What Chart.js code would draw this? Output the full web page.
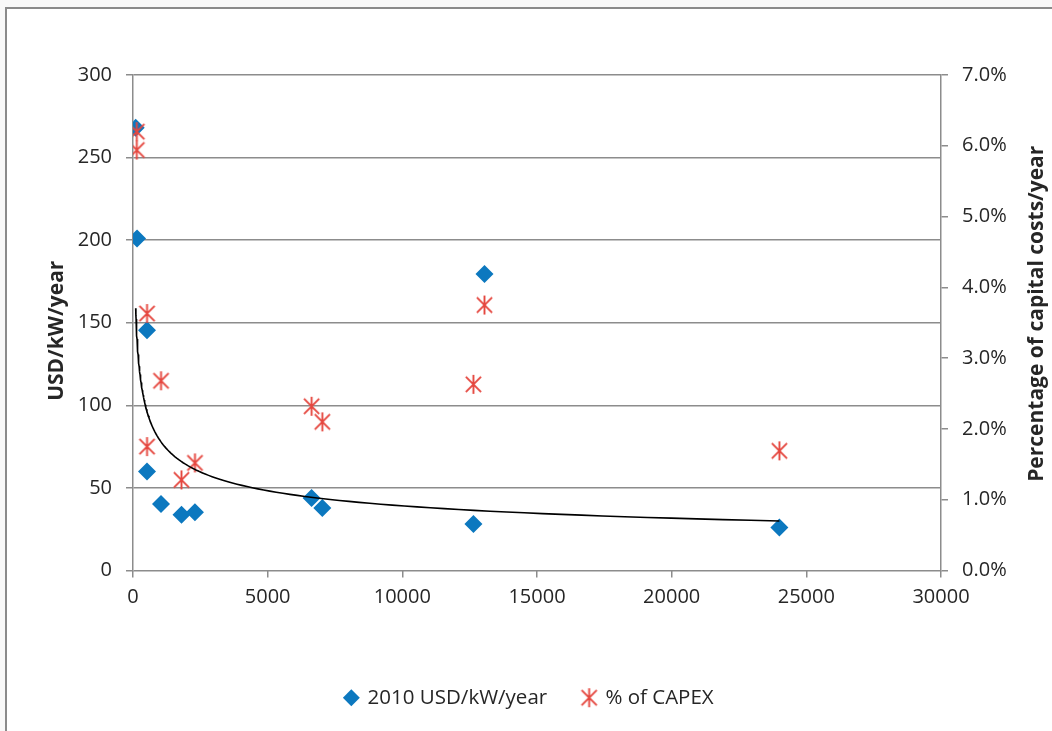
<!DOCTYPE html>
<html>
<head>
<meta charset="utf-8">
<script src="https://cdn.jsdelivr.net/npm/chart.js@4"></script>
<style>
  html, body { margin: 0; padding: 0; background: #f8f8f8; }
  #frame {
    position: absolute; left: 5px; top: 7px; width: 1047px; height: 724px;
    background: #fff; border-left: 2px solid #8a8a8a; border-top: 2px solid #8a8a8a;
  }
  #wrap { position: absolute; left: 0; top: 0; width: 1045px; height: 722px; }
</style>
</head>
<body>
<div id="frame"><div id="wrap"><canvas id="chart"></canvas></div></div>
<script>
// plant size (kW) and annual O&M cost (2010 USD/kW/year)
const usdX = [100, 150, 520, 520, 1040, 1800, 2300, 6630, 7030, 12640, 13050, 24000]
const usdY = [268, 201, 145.5, 60, 40.3, 33.8, 35.2, 43.9, 37.8, 28.1, 179.5, 26.1]
// same plants, O&M as % of capital costs per year
const capexX = [140, 140, 520, 520, 1040, 1800, 2300, 6630, 7030, 12640, 13050, 24000]
const capexY = [6.2, 5.94, 3.63, 1.75, 2.68, 1.28, 1.52, 2.32, 2.1, 2.63, 3.75, 1.69]

const xTicks = [0, 5000, 10000, 15000, 20000, 25000, 30000]
const leftTitle = 'USD/kW/year'
const rightTitle = 'Percentage of capital costs/year'
const seriesNames = ['2010 USD/kW/year', '% of CAPEX']

const BLUE = '#0c78bf'
const RED = '#e5473f'
const GRID = '#8c8c8c'
const TXT = '#262626'
const FONT = '"Open Sans", "Liberation Sans", sans-serif'

// power trendline y = a*x^b fitted on the USD series (like excel)
let n = usdX.length, sx = 0, sy = 0, sxx = 0, sxy = 0
for (let i = 0; i < n; i++) {
    let lx = Math.log(usdX[i]), ly = Math.log(usdY[i])
    sx += lx; sy += ly; sxx += lx * lx; sxy += lx * ly
}
const b = (n * sxy - sx * sy) / (n * sxx - sx * sx)
const a = Math.exp((sy - b * sx) / n)
const xMin = Math.min(...usdX), xMax = Math.max(...usdX)
const trend = []
for (let i = 0; i <= 120; i++) {
    let x = xMin * Math.pow(xMax / xMin, i / 120)
    trend.push({x: x, y: a * Math.pow(x, b)})
}

// excel style star marker (X with a vertical bar)
function starMarker(size, color) {
    const c = document.createElement('canvas')
    c.width = size; c.height = size
    const g = c.getContext('2d')
    const m = size / 2, r = size / 2 - 1, d = r * 0.8
    g.strokeStyle = color
    g.lineWidth = 1.9
    g.beginPath()
    g.moveTo(m, m - r); g.lineTo(m, m + r)
    g.moveTo(m - d, m - d); g.lineTo(m + d, m + d)
    g.moveTo(m + d, m - d); g.lineTo(m - d, m + d)
    g.stroke()
    return c
}
const star = starMarker(21, RED)

const axisTitles = {
    id: 'axisTitles',
    afterDraw(chart) {
        const ctx = chart.ctx, area = chart.chartArea
        const cy = (area.top + area.bottom) / 2
        ctx.save()
        ctx.font = 'bold 21px ' + FONT
        ctx.fillStyle = TXT
        ctx.textAlign = 'center'
        ctx.textBaseline = 'middle'
        ;[[50, cy + 8, leftTitle], [1030, cy - 9, rightTitle]].forEach(t => {
            ctx.save()
            ctx.translate(t[0], t[1])
            ctx.rotate(-Math.PI / 2)
            ctx.fillText(t[2], 0, 0)
            ctx.restore()
        })
        ctx.restore()
    }
}

const tickFont = {family: FONT, size: 20}

new Chart(document.getElementById('chart'), {
    type: 'scatter',
    data: {
        datasets: [
            {
                label: seriesNames[0],
                data: usdX.map((x, i) => ({x: x, y: usdY[i]})),
                yAxisID: 'y',
                pointStyle: 'rectRot',
                pointRadius: 9,
                pointHoverRadius: 9,
                backgroundColor: BLUE,
                borderColor: BLUE,
                borderWidth: 0,
                order: 3
            },
            {
                label: seriesNames[1],
                data: capexX.map((x, i) => ({x: x, y: capexY[i]})),
                yAxisID: 'y1',
                pointStyle: star,
                pointRadius: 10,
                backgroundColor: RED,
                borderColor: RED,
                order: 2
            },
            {
                label: 'trend',
                type: 'line',
                data: trend,
                yAxisID: 'y',
                borderColor: '#000',
                borderWidth: 1.6,
                pointRadius: 0,
                tension: 0,
                order: 1
            }
        ]
    },
    options: {
        responsive: true,
        maintainAspectRatio: false,
        animation: false,
        layout: {padding: {top: 66, left: 0, right: 0, bottom: 13}},
        plugins: {
            tooltip: {enabled: false},
            legend: {
                position: 'bottom',
                labels: {
                    filter: item => item.datasetIndex < 2,
                    sort: (p, q) => p.datasetIndex - q.datasetIndex,
                    usePointStyle: true,
                    boxWidth: 12,
                    boxHeight: 12,
                    padding: 36,
                    color: TXT,
                    font: {family: FONT, size: 20.5}
                }
            }
        },
        scales: {
            x: {
                type: 'linear',
                min: 0, max: 30000,
                afterBuildTicks: s => { s.ticks = xTicks.map(v => ({value: v})) },
                afterFit: s => { s.height = 81 },
                grid: {drawOnChartArea: false, color: GRID, lineWidth: 1.5, tickLength: 7},
                border: {display: false},
                ticks: {color: TXT, font: tickFont, padding: 8, maxRotation: 0,
                    callback: v => String(v)}
            },
            y: {
                position: 'left',
                min: 0, max: 300,
                afterFit: s => { s.width = 126 },
                grid: {color: GRID, lineWidth: 1.5, tickLength: 7},
                border: {display: true, color: GRID, width: 1.5},
                ticks: {stepSize: 50, color: TXT, font: tickFont, padding: 14}
            },
            y1: {
                position: 'right',
                min: 0, max: 7,
                afterFit: s => { s.width = 111 },
                grid: {drawOnChartArea: false, color: GRID, lineWidth: 1.5, tickLength: 7},
                border: {display: true, color: GRID, width: 1.5},
                ticks: {stepSize: 1, color: TXT, font: tickFont, padding: 14,
                    callback: v => v.toFixed(1) + '%'}
            }
        }
    },
    plugins: [axisTitles]
})
</script>
</body>
</html>
